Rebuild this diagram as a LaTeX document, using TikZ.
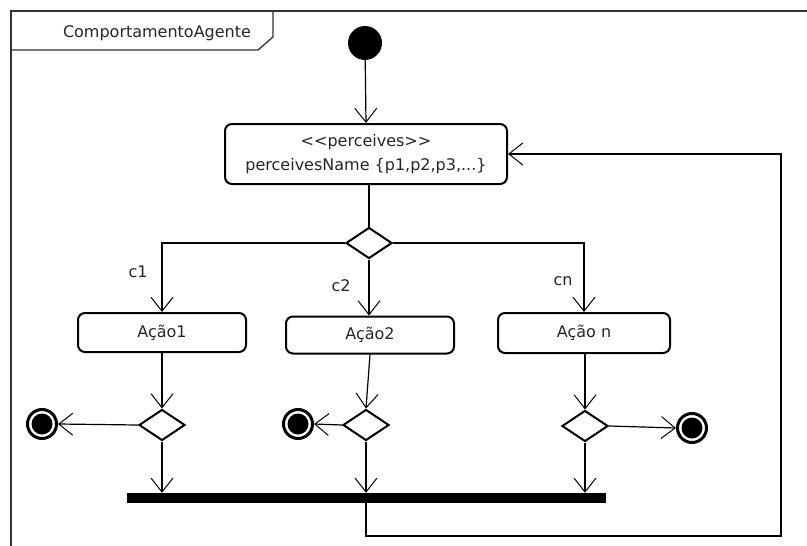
\documentclass[tikz,border=0pt]{standalone}
\usepackage{fontspec}
\setmainfont{DejaVu Sans}
\usetikzlibrary{arrows.meta,shapes.geometric}

\begin{document}
\begin{tikzpicture}[x=1pt,y=-1pt,
  every node/.style={font=\fontsize{16}{24}\selectfont, text=black!85},
  conn/.style={line width=1.2pt, -{Straight Barb[length=14pt,width=22pt,line width=1pt]}},
  plain/.style={line width=1.2pt},
  action/.style={draw, line width=2pt, rounded corners=7pt, inner sep=0pt, align=center},
  decision/.style={diamond, draw, line width=2pt, inner sep=0pt, minimum width=46pt, minimum height=31pt},
  initial/.style={circle, fill=black, inner sep=0pt, minimum size=34pt},
  final/.style={circle, draw, line width=3pt, fill=white, inner sep=0pt, minimum size=29pt,
    path picture={\fill[black] (path picture bounding box.center) circle (10.5pt);}},
  guard/.style={inner sep=1pt}
]
\useasboundingbox (0,0) rectangle (807,546);

% frame with name tab
\draw[line width=1.3pt, black!80] (11,546) -- (11,11) -- (807,11);
\draw[line width=1.3pt, black!80] (11,50) -- (258,50) -- (273,37) -- (273,11);
\node (title) at (157,33) {ComportamentoAgente};

% nodes
\node[initial] (init) at (365,43) {};
\node[action, minimum width=282pt, minimum height=60pt] (pc) at (366,154)
  {\char`<\kern0pt\char`<perceives\char`>\kern0pt\char`>\\perceivesName {\{}p1,p2,p3,...{\}}};
\node[decision] (d0) at (369,243) {};

\node[action, minimum width=168pt, minimum height=39pt] (a1) at (162,332.5) {Ação1};
\node[action, minimum width=168pt, minimum height=37pt] (a2) at (370,335) {Ação2};
\node[action, minimum width=172pt, minimum height=40pt] (a3) at (584,333) {Ação n};

\node[guard] (c1) at (138,272) {c1};
\node[guard] (c2) at (341,286) {c2};
\node[guard] (cn) at (563,281) {cn};

\node[decision] (d1) at (162,425) {};
\node[decision] (d2) at (366,425) {};
\node[decision] (d3) at (585,426) {};

\node[final] (f1) at (42,424) {};
\node[final] (f2) at (298,424) {};
\node[final] (f3) at (692,428) {};

\node[fill=black, inner sep=0pt, minimum width=479pt, minimum height=10pt] (bar) at (366.5,498) {};

\coordinate (loopA) at (781,536);

% connectors
\draw[conn] (init) -- (pc.north);
\draw[plain] (pc.south -| d0.north) -- (d0.north);
\draw[conn] (d0.west) -| (a1.north);
\draw[conn] (d0.south) -- (d0.south |- a2.north);
\draw[conn] (d0.east) -| (a3.north);

\draw[conn] (a1.south) -- (d1.north);
\draw[conn] (a2.south) -- (d2.north);
\draw[conn] (a3.south -| d3.north) -- (d3.north);

\draw[conn] (d1.west) -- (f1.east);
\draw[conn] (d2.west) -- (f2.east);
\draw[conn] (d3.east) -- (f3.west);

\draw[conn] (d1.south) -- (d1.south |- bar.north);
\draw[conn] (d2.south) -- (d2.south |- bar.north);
\draw[conn] (d3.south) -- (d3.south |- bar.north);

\draw[conn] (bar.south -| d2.south) |- (loopA) |- (pc.east);
\end{tikzpicture}
\end{document}
